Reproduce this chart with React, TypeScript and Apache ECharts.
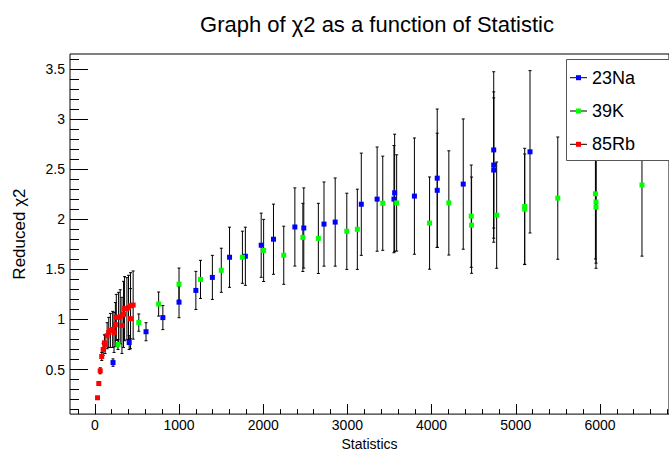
import React, { useEffect, useRef } from "react";
import * as echarts from "echarts";

// ---- data ----
const naX = [216, 408, 608, 808, 1000, 1200, 1396, 1600, 1788, 1976, 2122, 2376, 2482, 2722, 2855, 3165, 3353, 3553, 3561, 3796, 4067, 4067, 4376, 4738, 4738, 4738, 5169];
const naY = [0.569, 0.769, 0.877, 1.018, 1.172, 1.289, 1.419, 1.62, 1.63, 1.74, 1.8, 1.922, 1.912, 1.951, 1.971, 2.149, 2.2, 2.2, 2.263, 2.23, 2.409, 2.288, 2.35, 2.691, 2.54, 2.49, 2.672];
const naErr = [0.037, 0.07, 0.09, 0.12, 0.155, 0.19, 0.22, 0.3, 0.29, 0.32, 0.35, 0.39, 0.4, 0.42, 0.44, 0.51, 0.52, 0.535, 0.585, 0.58, 0.69, 0.57, 0.65, 0.78, 0.73, 0.72, 0.81];

const kX = [275, 522, 758, 1000, 1255, 1502, 1753, 2005, 2244, 2471, 2655, 2993, 3118, 3420, 3585, 3976, 4205, 4471, 4475, 4773, 5106, 5106, 5499, 5946, 5953, 5953, 6499];
const kY = [0.75, 0.968, 1.153, 1.352, 1.399, 1.49, 1.62, 1.688, 1.64, 1.818, 1.808, 1.879, 1.899, 2.159, 2.162, 1.961, 2.162, 2.03, 1.94, 2.04, 2.127, 2.1, 2.21, 2.253, 2.171, 2.12, 2.341];
const kErr = [0.05, 0.086, 0.12, 0.16, 0.19, 0.22, 0.26, 0.31, 0.29, 0.34, 0.35, 0.38, 0.4, 0.47, 0.48, 0.46, 0.52, 0.51, 0.48, 0.53, 0.58, 0.55, 0.61, 0.65, 0.61, 0.61, 0.71];

const rbX = [32, 47, 64, 82, 99, 114, 122, 146, 165, 185, 212, 228, 244, 255, 282, 302, 322, 341, 353, 381, 400, 424, 424, 455];
const rbY = [0.218, 0.36, 0.487, 0.63, 0.7, 0.766, 0.75, 0.837, 0.87, 0.89, 0.9, 0.87, 0.948, 1.02, 1.02, 1.026, 0.94, 1.05, 1.107, 1.107, 1.12, 1.136, 1.007, 1.143];
const rbErr = [0.01, 0.02, 0.03, 0.04, 0.06, 0.08, 0.09, 0.13, 0.15, 0.17, 0.18, 0.2, 0.22, 0.23, 0.25, 0.27, 0.28, 0.33, 0.32, 0.31, 0.32, 0.33, 0.3, 0.34];

const xMajorTicks = [0, 1000, 2000, 3000, 4000, 5000, 6000];
const xMinorTicks = [-200, 0, 200, 400, 600, 800, 1000, 1200, 1400, 1600, 1800, 2000, 2200, 2400, 2600, 2800, 3000, 3200, 3400, 3600, 3800, 4000, 4200, 4400, 4600, 4800, 5000, 5200, 5400, 5600, 5800, 6000, 6200, 6400, 6600, 6800];
const yMajorTicks = [0.5, 1, 1.5, 2, 2.5, 3, 3.5];
const yMinorTicks = [0.1, 0.2, 0.3, 0.4, 0.5, 0.6, 0.7, 0.8, 0.9, 1, 1.1, 1.2, 1.3, 1.4, 1.5, 1.6, 1.7, 1.8, 1.9, 2, 2.1, 2.2, 2.3, 2.4, 2.5, 2.6, 2.7, 2.8, 2.9, 3, 3.1, 3.2, 3.3, 3.4, 3.5, 3.6];

const seriesNames = ["23Na", "39K", "85Rb"];
const seriesColors = ["#0000ff", "#00ff00", "#ff0000"];

const FONT = "Liberation Sans";

function rows(xs: number[], ys: number[], es: number[]) {
  return xs.map((x, i) => [x, ys[i], es[i]]);
}

const errorRender = (params: any, api: any) => {
  const x = api.value(0);
  const y = api.value(1);
  const e = api.value(2);
  const top = api.coord([x, y + e]);
  const bot = api.coord([x, y - e]);
  const cw = 1.5;
  const style = { stroke: "#000", lineWidth: 1, fill: null };
  return {
    type: "group",
    children: [
      { type: "line", shape: { x1: top[0], y1: top[1], x2: bot[0], y2: bot[1] }, style },
      { type: "line", shape: { x1: top[0] - cw, y1: top[1], x2: top[0] + cw, y2: top[1] }, style },
      { type: "line", shape: { x1: bot[0] - cw, y1: bot[1], x2: bot[0] + cw, y2: bot[1] }, style },
    ],
  };
};

const plainLabel = (v: number) => String(v);

export default function App() {
  const ref = useRef<HTMLDivElement>(null);
  useEffect(() => {
    if (!ref.current) return;
    const chart = echarts.init(ref.current, null, { renderer: "svg" });
    const groups = [
      rows(naX, naY, naErr),
      rows(kX, kY, kErr),
      rows(rbX, rbY, rbErr),
    ];
    const series: any[] = [];
    groups.forEach((data, i) => {
      series.push({
        type: "custom",
        name: seriesNames[i] + " err",
        renderItem: errorRender,
        data,
        encode: { x: 0, y: 1 },
        clip: true,
        silent: true,
        z: 2,
      });
      series.push({
        type: "scatter",
        name: seriesNames[i],
        data: data.map((d) => [d[0], d[1]]),
        symbol: "rect",
        symbolSize: 5,
        itemStyle: { color: seriesColors[i], opacity: 1 },
        z: 3,
      });
    });

    const legendY = [77.7, 111, 144.3];
    const legendChildren: any[] = [
      {
        type: "rect",
        z: 100,
        shape: { x: 566.5, y: 59.5, width: 110, height: 101 },
        style: { fill: "#fff", stroke: "#555", lineWidth: 1 },
      },
    ];
    seriesNames.forEach((n, i) => {
      legendChildren.push({
        type: "line",
        z: 101,
        shape: { x1: 570, y1: legendY[i], x2: 587, y2: legendY[i] },
        style: { stroke: "#000", lineWidth: 1 },
      });
      legendChildren.push({
        type: "rect",
        z: 102,
        shape: { x: 576, y: legendY[i] - 2.5, width: 5, height: 5 },
        style: { fill: seriesColors[i] },
      });
      legendChildren.push({
        type: "text",
        z: 102,
        x: 592,
        y: legendY[i],
        style: {
          text: n,
          font: `18px '${FONT}'`,
          fill: "#000",
          verticalAlign: "middle",
          align: "left",
        },
      });
    });

    chart.setOption({
      animation: false,
      backgroundColor: "#fff",
      title: {
        text: "Graph of χ2 as a function of Statistic",
        left: 372,
        top: 8,
        textAlign: "center",
        textStyle: { fontFamily: FONT, fontSize: 22, fontWeight: "normal", color: "#000" },
      },
      grid: {
        left: 70,
        right: -5,
        top: 54,
        bottom: 32.7,
        show: true,
        borderColor: "#000",
        borderWidth: 1,
        backgroundColor: "transparent",
      },
      xAxis: [
        {
          type: "value",
          position: "bottom",
          min: -295,
          max: 6820,
          axisLine: { show: false, onZero: false },
          splitLine: { show: false },
          axisTick: { show: true, inside: true, length: 10, customValues: xMajorTicks, lineStyle: { color: "#000" } },
          axisLabel: { customValues: xMajorTicks, formatter: plainLabel, fontFamily: FONT, fontSize: 14, color: "#000", margin: 4 },
          name: "Statistics",
          nameLocation: "middle",
          nameGap: 20,
          nameTextStyle: { fontFamily: FONT, fontSize: 14, color: "#000" },
        },
        {
          type: "value",
          position: "bottom",
          min: -295,
          max: 6820,
          axisLine: { show: false, onZero: false },
          splitLine: { show: false },
          axisTick: { show: true, inside: true, length: 5, customValues: xMinorTicks, lineStyle: { color: "#000" } },
          axisLabel: { show: false },
        },
      ],
      yAxis: [
        {
          type: "value",
          position: "left",
          min: 0.055,
          max: 3.648,
          axisLine: { show: false, onZero: false },
          splitLine: { show: false },
          axisTick: { show: true, inside: true, length: 18, customValues: yMajorTicks, lineStyle: { color: "#000" } },
          axisLabel: { customValues: yMajorTicks, formatter: plainLabel, fontFamily: FONT, fontSize: 14, color: "#000", margin: 5 },
          name: "Reduced χ2",
          nameLocation: "middle",
          nameGap: 42,
          nameRotate: 90,
          nameTextStyle: { fontFamily: FONT, fontSize: 17, color: "#000" },
        },
        {
          type: "value",
          position: "left",
          min: 0.055,
          max: 3.648,
          axisLine: { show: false, onZero: false },
          splitLine: { show: false },
          axisTick: { show: true, inside: true, length: 9, customValues: yMinorTicks, lineStyle: { color: "#000" } },
          axisLabel: { show: false },
        },
      ],
      series,
      graphic: [{ type: "group", z: 100, children: legendChildren }],
    });
    return () => chart.dispose();
  }, []);
  return (
    <div
      ref={ref}
      style={{ position: "fixed", left: 0, top: 0, width: 669, height: 456, background: "#fff" }}
    />
  );
}
